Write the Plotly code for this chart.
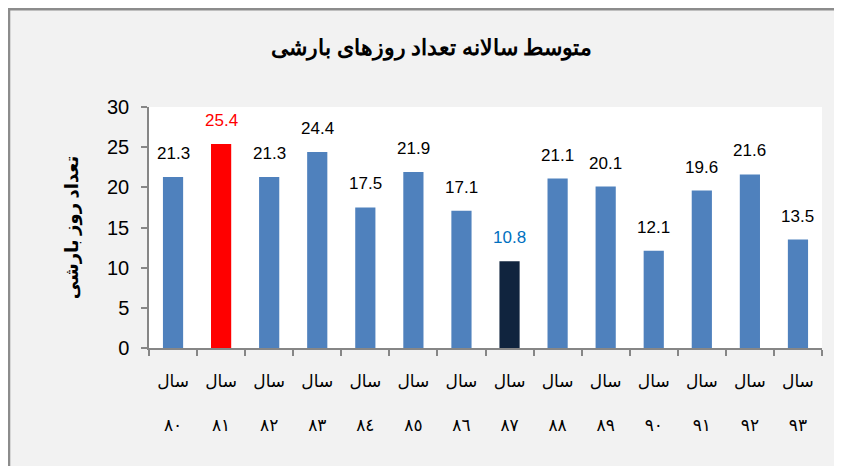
import plotly.graph_objects as go

years = ["٨٠", "٨١", "٨٢", "٨٣", "٨٤", "٨٥", "٨٦", "٨٧", "٨٨", "٨٩", "٩٠", "٩١", "٩٢", "٩٣"]
values = [21.3, 25.4, 21.3, 24.4, 17.5, 21.9, 17.1, 10.8, 21.1, 20.1, 12.1, 19.6, 21.6, 13.5]
bar_colors = ["#4f81bd", "#ff0000", "#4f81bd", "#4f81bd", "#4f81bd", "#4f81bd", "#4f81bd",
              "#10243e", "#4f81bd", "#4f81bd", "#4f81bd", "#4f81bd", "#4f81bd", "#4f81bd"]
label_colors = ["#000000", "#ff0000", "#000000", "#000000", "#000000", "#000000", "#000000",
                "#0070c0", "#000000", "#000000", "#000000", "#000000", "#000000", "#000000"]
title_text = "متوسط سالانه تعداد روزهای بارشی"
ytitle = "تعداد روز بارشی"
y_ticks = [0, 5, 10, 15, 20, 25, 30]

cats = ["سال " + y for y in years]
ticktext = ["سال<br><br>" + y for y in years]

fig = go.Figure()
fig.add_trace(go.Bar(x=cats, y=values, marker=dict(color=bar_colors, line=dict(width=0)),
                     width=0.42, showlegend=False, hoverinfo="y"))

annotations = []
for c, v, col in zip(cats, values, label_colors):
    annotations.append(dict(x=c, y=v, xref="x", yref="y", text=f"{v:.1f}", showarrow=False,
                            yanchor="bottom", yshift=12,
                            font=dict(size=17, color=col, family="Liberation Sans, Arial, sans-serif")))
annotations.append(dict(x=0.42, y=1.245, xref="paper", yref="paper", text="<b>" + title_text + "</b>",
                        showarrow=False, xanchor="center", yanchor="middle",
                        font=dict(size=22, color="#000000", family="Times New Roman, Liberation Serif, DejaVu Serif, serif")))

fig.update_layout(
    width=842, height=466,
    margin=dict(l=141, r=28, t=99, b=126, autoexpand=False),
    paper_bgcolor="#f2f2f2",
    plot_bgcolor="#ffffff",
    bargap=0.58,
    annotations=annotations,
    shapes=[
        dict(type="rect", xref="paper", yref="paper", x0=-0.2080, x1=1.2, y0=-0.7, y1=1.406,
             fillcolor="rgba(0,0,0,0)", line=dict(color="#8c8c8c", width=2.5), layer="below"),
    ],
    font=dict(family="Liberation Sans, Arial, sans-serif"),
)
fig.update_xaxes(
    type="category", tickvals=cats, ticktext=ticktext, tickson="boundaries",
    ticks="outside", ticklen=6, tickcolor="#868686", tickwidth=1.5,
    showline=True, linecolor="#868686", linewidth=1.5,
    tickfont=dict(size=17, color="#000000", family="Times New Roman, Liberation Serif, DejaVu Sans, serif"),
    ticklabelstandoff=17, showgrid=False, fixedrange=True, automargin=False,
)
fig.update_yaxes(
    range=[0, 30], tickvals=y_ticks, ticks="outside", ticklen=6, tickcolor="#868686", tickwidth=1.5,
    showline=True, linecolor="#868686", linewidth=1.5, showgrid=False, zeroline=False,
    tickfont=dict(size=20, color="#000000", family="Liberation Sans, Arial, sans-serif"),
    ticklabelstandoff=8, automargin=False,
    title=dict(text="<b>" + ytitle + "</b>", standoff=24,
               font=dict(size=18, color="#000000", family="Times New Roman, Liberation Serif, DejaVu Sans, serif")),
    fixedrange=True,
)

fig.write_html("out.html")
